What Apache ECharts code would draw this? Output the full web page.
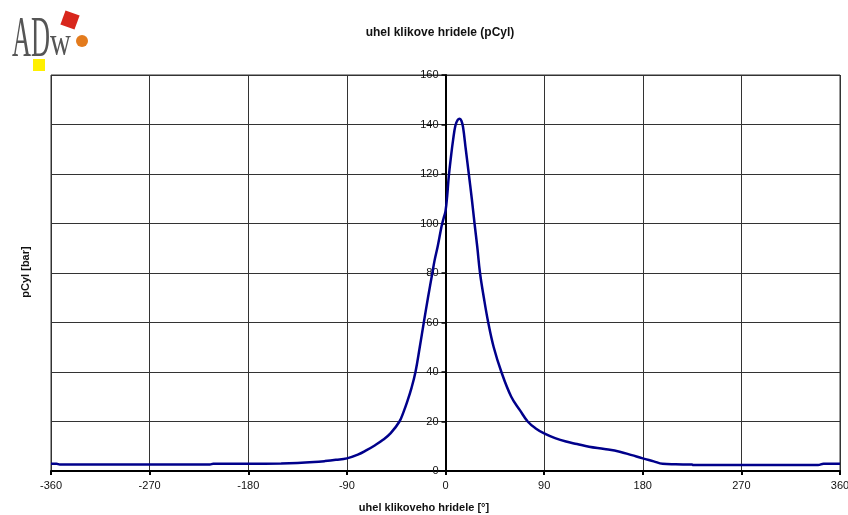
<!DOCTYPE html>
<html>
<head>
<meta charset="utf-8">
<script src="https://cdn.jsdelivr.net/npm/echarts@6/dist/echarts.min.js"></script>
<style>html,body{margin:0;padding:0;background:#fff}#c{width:848px;height:515px}</style>
</head>
<body>
<div id="c"></div>
<script>
var chartTitle = 'uhel klikove hridele (pCyl)';
var xTitle = 'uhel klikoveho hridele [°]';
var yTitle = 'pCyl [bar]';
var xTicks = [-360, -270, -180, -90, 0, 90, 180, 270, 360];
var yTicks = [0, 20, 40, 60, 80, 100, 120, 140, 160];
var angle = [-360, -355, -352, -300, -250, -215, -212, -180, -150, -135, -120, -110, -100, -90, -80, -72, -65, -57, -50, -42, -38, -35, -31, -27.4, -23.5, -19.8, -16, -12, -10, -7, -4, -3, -1.5, 0, 1.5, 3, 5, 7, 9, 11, 13, 14.5, 16, 18.5, 21, 24, 26.5, 29, 31.5, 35, 39, 44, 51, 60, 68, 75, 82, 90, 100, 110, 120, 131, 145, 159, 170, 180, 190, 198, 210, 225, 226, 300, 340, 345, 360];
var pCyl = [2.9, 2.9, 2.6, 2.6, 2.6, 2.6, 2.9, 2.9, 3.0, 3.2, 3.6, 4.0, 4.5, 5.1, 6.6, 8.4, 10.2, 12.6, 15.3, 20, 24.2, 27.9, 33.6, 40, 50, 60, 70, 80, 85, 91, 98, 100, 102.5, 105, 111, 119, 127, 134, 139.5, 141.8, 142.3, 141.5, 139, 130, 121, 110, 100, 90.5, 80, 70, 60, 50, 40, 30, 24.5, 20, 17.3, 15.2, 13.3, 11.9, 10.9, 9.8, 8.9, 7.8, 6.4, 5.1, 3.9, 2.9, 2.7, 2.6, 2.4, 2.4, 2.4, 2.9, 2.9];

var data = angle.map(function (a, i) { return [a, pCyl[i]]; });
var font = 'Liberation Sans, Arial, sans-serif';
var gridLeft = 51, gridRight = 8, W = 848;
var zeroX = gridLeft + (W - gridLeft - gridRight) / 2;
var chart = echarts.init(document.getElementById('c'), null, {renderer: 'canvas'});
chart.setOption({
  animation: false,
  backgroundColor: '#fff',
  grid: {left: gridLeft, right: gridRight, top: 75, bottom: 44, show: true, borderColor: '#333', borderWidth: 1, containLabel: false, outerBoundsMode: 'none'},
  xAxis: {
    type: 'value', min: xTicks[0], max: xTicks[xTicks.length - 1], interval: 90,
    axisLine: {onZero: false, lineStyle: {color: '#000', width: 2}},
    axisTick: {show: true, length: 4, lineStyle: {color: '#000', width: 2}},
    axisLabel: {color: '#111', fontFamily: font, fontSize: 11, margin: 9, showMinLabel: true, showMaxLabel: true},
    splitLine: {show: true, lineStyle: {color: '#333', width: 1}}
  },
  yAxis: {
    type: 'value', min: yTicks[0], max: yTicks[yTicks.length - 1], interval: 20,
    axisLine: {show: true, onZero: true, lineStyle: {color: '#000', width: 2}},
    axisTick: {show: true, length: 4, lineStyle: {color: '#000', width: 1.5}},
    axisLabel: {color: '#111', fontFamily: font, fontSize: 11, margin: gridLeft - (zeroX - 7)},
    splitLine: {show: true, lineStyle: {color: '#333', width: 1}}
  },
  title: {
    text: chartTitle, left: 435, top: 22, textAlign: 'center',
    textStyle: {fontFamily: font, fontSize: 12, fontWeight: 'bold', color: '#111'}
  },
  graphic: [
    {type: 'text', left: 'center', top: 502, style: {text: xTitle, font: 'bold 11px ' + font, fill: '#111'}, z: 10},
    {type: 'text', x: 26, y: 272, rotation: Math.PI / 2, style: {text: yTitle, font: 'bold 11px ' + font, fill: '#111', align: 'center', verticalAlign: 'middle'}, z: 10},
    {type: 'text', x: 12, y: 41, scaleX: 0.47, scaleY: 1, style: {text: 'AD', font: '56px Liberation Serif, serif', fill: '#555', verticalAlign: 'middle'}},
    {type: 'text', x: 50, y: 44, scaleX: 0.72, scaleY: 1, style: {text: 'w', font: '40px Liberation Serif, serif', fill: '#555', verticalAlign: 'middle'}},
    {type: 'rect', x: 70, y: 20, rotation: -0.35, shape: {x: -7.5, y: -7.5, width: 15, height: 15}, style: {fill: '#d8261c'}},
    {type: 'circle', shape: {cx: 82, cy: 41, r: 6}, style: {fill: '#e37b1d'}},
    {type: 'rect', shape: {x: 33, y: 59, width: 12, height: 12}, style: {fill: '#fff000'}}
  ],
  series: [{
    type: 'line', data: data, showSymbol: false, smooth: 0.4,
    lineStyle: {color: '#00008b', width: 2.5}, z: 5
  }]
});
</script>
</body>
</html>
